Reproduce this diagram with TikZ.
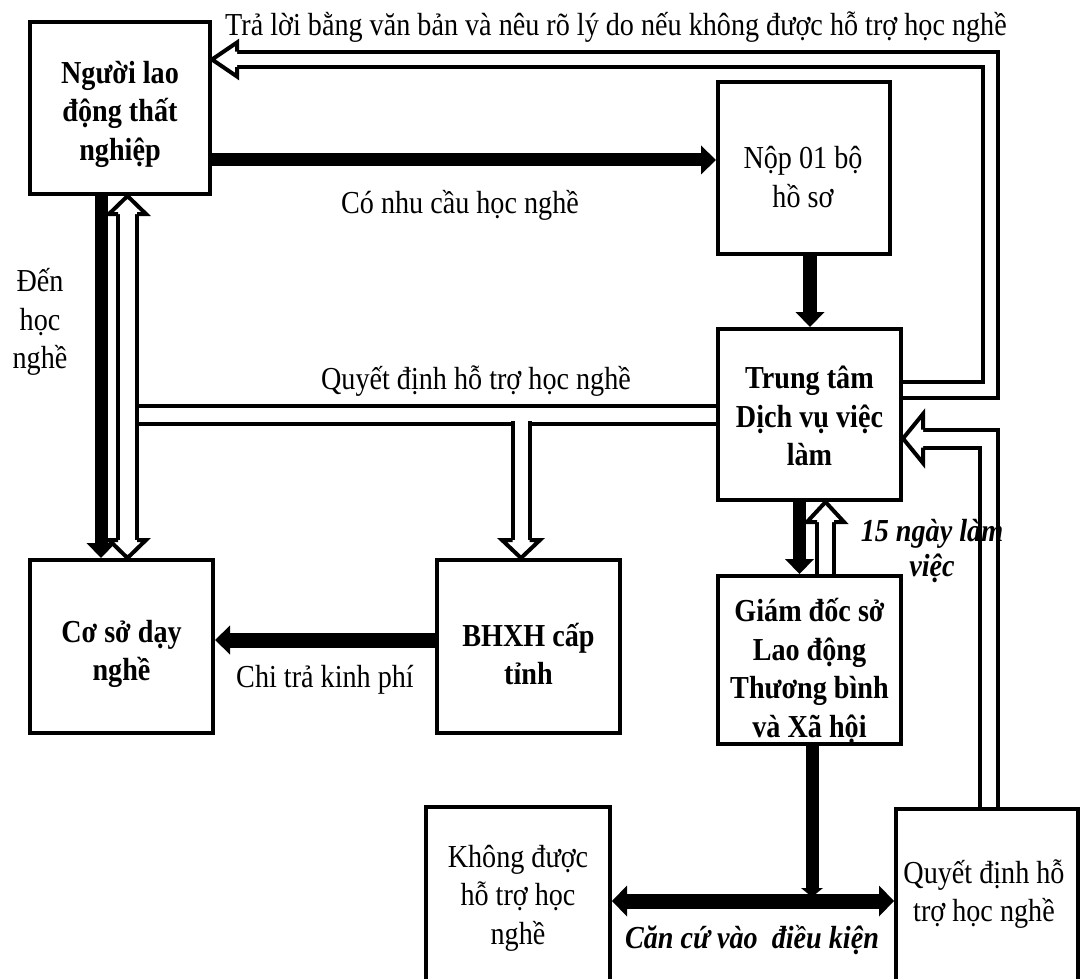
\documentclass[tikz,border=0pt]{standalone}
\usepackage{fontspec}
\setmainfont{Liberation Serif}[FakeStretch=0.88]
\usetikzlibrary{arrows.meta}
\newcommand{\hollowhead}[5]{%
  \begin{scope}[shift={(#1)},rotate=#2]
    \filldraw[fill=white,line width=4pt,line join=miter]
      (-#3,#5)--(-#3,#4)--(0,0)--(-#3,-#4)--(-#3,-#5);
  \end{scope}}
\begin{document}
\begin{tikzpicture}[x=1pt,y=-1pt,
  box/.style={draw,line width=4pt,fill=white,inner sep=0pt,rectangle},
  txt/.style={align=center,inner sep=0pt,font=\fontsize{32}{38.5}\selectfont},
  btxt/.style={align=center,inner sep=0pt,font=\fontsize{32}{38.5}\selectfont\bfseries},
  bitxt/.style={align=center,inner sep=0pt,font=\fontsize{32}{35}\selectfont\bfseries\itshape},
  hollow/.style={draw,line width=4pt,double=white,double distance=#1},
  hollow/.default=13pt,
  blk/.style={draw,line width=#1,-{Triangle[width=29pt,length=15pt,line width=0pt]}},
  blk/.default=13pt]
\useasboundingbox (0,0) rectangle (1082,979);
\clip (0,0) rectangle (1082,979);
\fill[white] (0,0) rectangle (1082,979);

% boxes
\node[box,minimum width=180pt,minimum height=172pt] (a) at (120,108) {};
\node[box,minimum width=172pt,minimum height=172pt] (b) at (804,168) {};
\node[box,minimum width=183pt,minimum height=171pt] (c) at (809.5,414.5) {};
\node[box,minimum width=183pt,minimum height=168pt] (d) at (809.5,660) {};
\node[box,minimum width=183pt,minimum height=173pt] (e) at (121.5,646.5) {};
\node[box,minimum width=183pt,minimum height=173pt] (f) at (528.5,646.5) {};
\node[box,minimum width=184pt,minimum height=206pt] (g) at (518,910) {};
\node[box,minimum width=182pt,minimum height=204pt] (h) at (987,911) {};

% box texts
\node[btxt] (atxt) at (120,114) {Người lao\\động thất\\nghiệp};
\node[txt] (btx) at (803,177) {Nộp 01 bộ\\hồ sơ};
\node[btxt] (ctxt) at (809.5,416) {Trung tâm\\Dịch vụ việc\\làm};
\node[btxt] (dtxt) at (809.5,671) {Giám đốc sở\\Lao động\\Thương bình\\và Xã hội};
\node[btxt] (etxt) at (121.5,654) {Cơ sở dạy\\nghề};
\node[btxt] (ftxt) at (528.5,654) {BHXH cấp\\tỉnh};
\node[txt] (gtxt) at (518,898) {Không được\\hỗ trợ học\\nghề};
\node[txt] (htxt) at (984,894) {Quyết định hỗ\\trợ học nghề};

% helper coordinates
\coordinate (tr) at (990.5,59.5);
\coordinate (rr) at (988.5,438.5);
\coordinate (hv) at (127.5,0);
\coordinate (hj) at (137,0);
\coordinate (sj) at (521,421);
\coordinate (cdu) at (825.5,0);
\coordinate (ab) at (0,160);
\coordinate (bc) at (810,0);
\coordinate (cd) at (799.5,0);
\coordinate (ae) at (101,0);
\coordinate (fe) at (0,640);
\coordinate (bj) at (812,897);
\coordinate (bar) at (0,901);

% hollow connectors
\draw[hollow=14pt] (c.west) -- (c.west -| hj);
\draw[hollow=15pt,shorten >=18pt,shorten <=18pt] (a.south -| hv) -- (e.north -| hv);
\hollowhead{a.south -| hv}{90}{18}{18.5}{9.5}
\hollowhead{e.north -| hv}{-90}{18}{18.5}{9.5}
\draw[hollow=13pt,shorten >=18pt] (sj) -- (sj |- f.north);
\hollowhead{sj |- f.north}{-90}{18}{19}{8.5}
\draw[hollow=11.5pt,shorten >=25pt] ([yshift=24.5pt]c.east) -| (tr) -- (tr -| a.east);
\hollowhead{tr -| a.east}{180}{25}{17}{7.75}
\draw[hollow=14pt,shorten >=20pt] (rr |- h.north) -- (rr) -- (rr -| c.east);
\hollowhead{rr -| c.east}{180}{20}{24.5}{9}
\draw[hollow=13pt,shorten >=20pt] (d.north -| cdu) -- (c.south -| cdu);
\hollowhead{c.south -| cdu}{90}{20}{18.5}{8.5}

% black connectors
\draw[blk=13pt] (a.east |- ab) -- (b.west |- ab);
\draw[blk=14pt] (b.south -| bc) -- (c.north -| bc);
\draw[blk=13pt] (c.south -| cd) -- (d.north -| cd);
\draw[blk=13pt] (a.south -| ae) -- (e.north -| ae);
\draw[blk=15pt] (f.west |- fe) -- (e.east |- fe);
\draw[line width=13pt,-{Triangle[width=22pt,length=9pt,line width=0pt]}] (d.south -| bj) -- (bj);
\draw[line width=15pt,{Triangle[width=31pt,length=15pt,line width=0pt]}-{Triangle[width=31pt,length=15pt,line width=0pt]}] (g.east |- bar) -- (h.west |- bar);

% labels
\node[txt] (ltop) at (616,27) {Trả lời bằng văn bản và nêu rõ lý do nếu không được hỗ trợ học nghề};
\node[txt] (lnhu) at (460,205) {Có nhu cầu học nghề};
\node[txt] (lden) at (40,322) {Đến\\học\\nghề};
\node[txt] (lqd) at (476,381) {Quyết định hỗ trợ học nghề};
\node[bitxt] (l15) at (932,551) {15 ngày làm\\việc};
\node[txt] (lchi) at (325,680) {Chi trả kinh phí};
\node[bitxt] (lcan) at (752,940) {Căn cứ vào~ điều kiện};
\end{tikzpicture}
\end{document}
